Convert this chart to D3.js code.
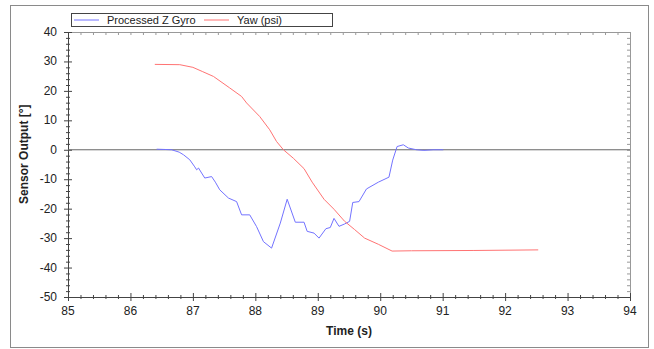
<!DOCTYPE html>
<html>
<head>
<meta charset="utf-8">
<script src="https://cdn.jsdelivr.net/npm/d3@7"></script>
<style>
  body { margin: 0; background: #fff; }
  text { font-family: "Liberation Sans", Arial, sans-serif; }
</style>
</head>
<body>
<div id="chart"></div>
<script>
//~~~~~~~~~~~~~~~~~~DATA
//processed z gyro, time in seconds and output in degrees
let gyroTime = [86.42, 86.55, 86.66, 86.78, 86.85, 86.95, 87.03, 87.06, 87.09, 87.19, 87.30, 87.36, 87.43, 87.57, 87.70, 87.78, 87.91, 88.02, 88.13, 88.26, 88.40, 88.51, 88.64, 88.78, 88.83, 88.94, 89.02, 89.13, 89.20, 89.26, 89.34, 89.43, 89.51, 89.56, 89.66, 89.78, 89.97, 90.14, 90.20, 90.27, 90.37, 90.45, 90.58, 90.70, 90.85, 91.01];
let gyroValues = [0.2, 0.1, 0, -0.8, -1.7, -3.4, -5.8, -6.8, -6.2, -9.6, -9.1, -11.0, -13.6, -16.4, -17.6, -22.1, -22.1, -26.1, -31.2, -33.4, -24.9, -16.8, -24.6, -24.6, -27.7, -28.3, -30.0, -26.8, -26.4, -23.3, -26.0, -25.2, -24.3, -17.9, -17.6, -13.3, -11.0, -9.3, -3.5, 1.1, 1.7, 0.6, 0, -0.2, 0, 0];

//yaw (psi), time in seconds and output in degrees
let yawTime = [86.39, 86.79, 87.00, 87.15, 87.33, 87.59, 87.78, 87.86, 88.07, 88.23, 88.34, 88.45, 88.61, 88.78, 88.91, 89.10, 89.26, 89.43, 89.59, 89.75, 89.97, 90.19, 90.50, 91.50, 92.53];
let yawValues = [29.0, 28.9, 28.0, 26.6, 24.9, 21.0, 18.1, 15.9, 11.3, 6.8, 2.8, 0, -2.9, -6.4, -11.0, -16.8, -20.2, -24.3, -27.1, -30.0, -32.1, -34.4, -34.3, -34.2, -34.0];

let seriesNames = ['Processed Z Gyro', 'Yaw (psi)'];
let seriesColors = ['#7373ff', '#ff7373'];

//tick labels
let xTicks = [85, 86, 87, 88, 89, 90, 91, 92, 93, 94];
let yTicks = [40, 30, 20, 10, 0, -10, -20, -30, -40, -50];

//~~~~~~~~~~~~~~~~~~VARIABLES
let width = 654;
let height = 349;
let plotLeft = 68;
let plotRight = 630;
let plotTop = 32;
let plotBottom = 297;

let svg = d3.select('#chart')
  .append('svg')
  .attr('width', width)
  .attr('height', height);

//outer frame around the whole picture
svg.append('rect')
  .attr('x', 10.5)
  .attr('y', 5.5)
  .attr('width', 638)
  .attr('height', 342)
  .attr('fill', '#fff')
  .attr('stroke', '#8a8a8a');

let x = d3.scaleLinear().domain([85, 94]).range([plotLeft, plotRight]);
let y = d3.scaleLinear().domain([-50, 40]).range([plotBottom, plotTop]);

//~~~~~~~~~~~~~~~~~~AXES
//minor ticks every 0.2 s and every 2 degrees
let xMinor = d3.range(85, 94.001, 0.2);
let yMinor = d3.range(-50, 40.001, 2);

//top and right frame with small inner ticks
svg.append('g')
  .attr('transform', 'translate(0,' + plotTop + ')')
  .call(d3.axisTop(x).tickValues(xMinor).tickSize(-3).tickFormat(''))
  .call(g => g.selectAll('line, path').attr('stroke', '#999'));

svg.append('g')
  .attr('transform', 'translate(' + plotRight + ',0)')
  .call(d3.axisRight(y).tickValues(yMinor).tickSize(-3).tickFormat(''))
  .call(g => g.selectAll('line, path').attr('stroke', '#999'));

//bottom axis, ticks cross the line
let xAxis = svg.append('g')
  .attr('transform', 'translate(0,' + plotBottom + ')');
xAxis.call(d3.axisBottom(x).tickValues(xMinor).tickSizeInner(0).tickSizeOuter(0).tickFormat(''));
xAxis.selectAll('.tick line')
  .attr('y1', d => Math.abs(d - Math.round(d)) < 0.01 ? -4 : -2)
  .attr('y2', d => Math.abs(d - Math.round(d)) < 0.01 ? 4 : 2)
  .attr('stroke', '#444');
xAxis.select('.domain').attr('stroke', '#444');

svg.append('g')
  .selectAll('text')
  .data(xTicks)
  .enter()
  .append('text')
  .attr('x', d => x(d))
  .attr('y', plotBottom + 18)
  .attr('text-anchor', 'middle')
  .attr('font-size', 12)
  .attr('fill', '#222')
  .text(d => d);

//left axis
let yAxis = svg.append('g')
  .attr('transform', 'translate(' + plotLeft + ',0)');
yAxis.call(d3.axisLeft(y).tickValues(yMinor).tickSizeInner(0).tickSizeOuter(0).tickFormat(''));
yAxis.selectAll('.tick line')
  .attr('x1', d => d % 10 === 0 ? -4 : -2)
  .attr('x2', d => d % 10 === 0 ? 4 : 2)
  .attr('stroke', '#444');
yAxis.select('.domain').attr('stroke', '#444');

svg.append('g')
  .selectAll('text')
  .data(yTicks)
  .enter()
  .append('text')
  .attr('x', plotLeft - 11)
  .attr('y', d => y(d) + 4)
  .attr('text-anchor', 'end')
  .attr('font-size', 12)
  .attr('fill', '#222')
  .text(d => d);

//zero line
svg.append('line')
  .attr('x1', plotLeft)
  .attr('x2', plotRight)
  .attr('y1', y(0))
  .attr('y2', y(0))
  .attr('stroke', '#666');

//axis titles
svg.append('text')
  .attr('x', 349)
  .attr('y', 335)
  .attr('text-anchor', 'middle')
  .attr('font-size', 12)
  .attr('font-weight', 'bold')
  .attr('fill', '#222')
  .text('Time (s)');

svg.append('text')
  .attr('transform', 'translate(28,' + y(-1.5) + ') rotate(-90)')
  .attr('text-anchor', 'middle')
  .attr('font-size', 12)
  .attr('font-weight', 'bold')
  .attr('fill', '#222')
  .text('Sensor Output [°]');

//~~~~~~~~~~~~~~~~~~LINES
let line = d3.line()
  .x(d => x(d[0]))
  .y(d => y(d[1]));

svg.append('path')
  .datum(d3.zip(gyroTime, gyroValues))
  .attr('d', line)
  .attr('fill', 'none')
  .attr('stroke', seriesColors[0])
  .attr('stroke-width', 1);

svg.append('path')
  .datum(d3.zip(yawTime, yawValues))
  .attr('d', line)
  .attr('fill', 'none')
  .attr('stroke', seriesColors[1])
  .attr('stroke-width', 1);

//~~~~~~~~~~~~~~~~~~LEGEND
svg.append('rect')
  .attr('x', 71.5)
  .attr('y', 13.5)
  .attr('width', 261)
  .attr('height', 13)
  .attr('fill', '#fff')
  .attr('stroke', '#444');

let legendX = [74, 204];
let legend = svg.selectAll('.legend')
  .data(seriesNames)
  .enter()
  .append('g')
  .attr('class', 'legend')
  .attr('transform', (d, i) => 'translate(' + legendX[i] + ',20)');

legend.append('line')
  .attr('x1', 0)
  .attr('x2', 25)
  .attr('stroke', (d, i) => seriesColors[i]);

legend.append('text')
  .attr('x', 33)
  .attr('y', 4)
  .attr('font-size', 11)
  .attr('fill', '#222')
  .text(d => d);
</script>
</body>
</html>
